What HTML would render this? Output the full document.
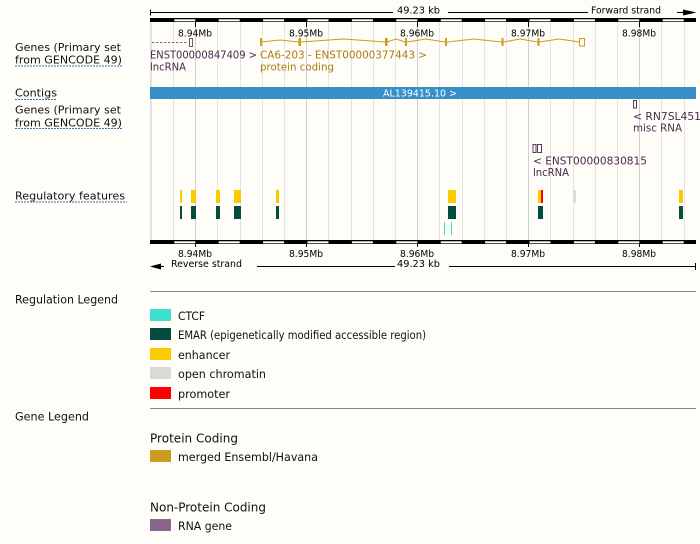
<!DOCTYPE html>
<html><head><meta charset="utf-8"><style>
html,body{margin:0;padding:0;background:#fefdf8;}
svg{display:block;}
text{font-family:"DejaVu Sans","Liberation Sans",sans-serif;}
</style></head><body>
<svg width="700" height="544" viewBox="0 0 700 544" xmlns="http://www.w3.org/2000/svg">
<rect width="700" height="544" fill="#fefdf8"/>

<!-- grid lines -->
<g stroke-width="1">
<line x1="173.5" y1="22" x2="173.5" y2="240" stroke="#e4e4e4"/>
<line x1="195.5" y1="22" x2="195.5" y2="240" stroke="#cfcfcf"/>
<line x1="217.5" y1="22" x2="217.5" y2="240" stroke="#e4e4e4"/>
<line x1="240.5" y1="22" x2="240.5" y2="240" stroke="#e4e4e4"/>
<line x1="262.5" y1="22" x2="262.5" y2="240" stroke="#e4e4e4"/>
<line x1="284.5" y1="22" x2="284.5" y2="240" stroke="#e4e4e4"/>
<line x1="306.5" y1="22" x2="306.5" y2="240" stroke="#cfcfcf"/>
<line x1="328.5" y1="22" x2="328.5" y2="240" stroke="#e4e4e4"/>
<line x1="351.5" y1="22" x2="351.5" y2="240" stroke="#e4e4e4"/>
<line x1="373.5" y1="22" x2="373.5" y2="240" stroke="#e4e4e4"/>
<line x1="395.5" y1="22" x2="395.5" y2="240" stroke="#e4e4e4"/>
<line x1="417.5" y1="22" x2="417.5" y2="240" stroke="#cfcfcf"/>
<line x1="439.5" y1="22" x2="439.5" y2="240" stroke="#e4e4e4"/>
<line x1="462.5" y1="22" x2="462.5" y2="240" stroke="#e4e4e4"/>
<line x1="484.5" y1="22" x2="484.5" y2="240" stroke="#e4e4e4"/>
<line x1="506.5" y1="22" x2="506.5" y2="240" stroke="#e4e4e4"/>
<line x1="528.5" y1="22" x2="528.5" y2="240" stroke="#cfcfcf"/>
<line x1="550.5" y1="22" x2="550.5" y2="240" stroke="#e4e4e4"/>
<line x1="573.5" y1="22" x2="573.5" y2="240" stroke="#e4e4e4"/>
<line x1="595.5" y1="22" x2="595.5" y2="240" stroke="#e4e4e4"/>
<line x1="617.5" y1="22" x2="617.5" y2="240" stroke="#e4e4e4"/>
<line x1="639.5" y1="22" x2="639.5" y2="240" stroke="#cfcfcf"/>
<line x1="661.5" y1="22" x2="661.5" y2="240" stroke="#e4e4e4"/>
<line x1="684.5" y1="22" x2="684.5" y2="240" stroke="#e4e4e4"/>
</g>
<rect x="150" y="22" width="2" height="218" fill="#e0e0e0"/>

<!-- top ruler -->
<line x1="150" y1="12.5" x2="393" y2="12.5" stroke="#000"/>
<line x1="150.5" y1="9.5" x2="150.5" y2="15.5" stroke="#000"/>
<text x="397" y="13.5" font-size="9.5" textLength="43" lengthAdjust="spacingAndGlyphs">49.23 kb</text>
<line x1="448" y1="12.5" x2="588" y2="12.5" stroke="#000"/>
<text x="591" y="13.5" font-size="9.5" textLength="70" lengthAdjust="spacingAndGlyphs">Forward strand</text>
<line x1="677" y1="12.5" x2="684" y2="12.5" stroke="#000"/>
<polygon points="683,9.5 696.5,12.5 683,15.5" fill="#000"/>

<rect x="150" y="18" width="546" height="4" fill="#000"/>
<g fill="#fff">
<rect x="174.3" y="19.3" width="21" height="2"/>
<rect x="218.7" y="19.3" width="21" height="2"/>
<rect x="263.1" y="19.3" width="21" height="2"/>
<rect x="307.5" y="19.3" width="21" height="2"/>
<rect x="351.9" y="19.3" width="21" height="2"/>
<rect x="396.3" y="19.3" width="21" height="2"/>
<rect x="440.7" y="19.3" width="21" height="2"/>
<rect x="485.1" y="19.3" width="21" height="2"/>
<rect x="529.5" y="19.3" width="21" height="2"/>
<rect x="573.9" y="19.3" width="21" height="2"/>
<rect x="618.3" y="19.3" width="21" height="2"/>
<rect x="662.7" y="19.3" width="21" height="2"/>
</g>
<g stroke="#000">
<line x1="195.5" y1="22" x2="195.5" y2="27"/>
<line x1="306.5" y1="22" x2="306.5" y2="27"/>
<line x1="417.5" y1="22" x2="417.5" y2="27"/>
<line x1="528.5" y1="22" x2="528.5" y2="27"/>
<line x1="639.5" y1="22" x2="639.5" y2="27"/>
</g>
<g font-size="9.5" text-anchor="middle">
<text x="195" y="36.5" textLength="34" lengthAdjust="spacingAndGlyphs">8.94Mb</text>
<text x="306" y="36.5" textLength="34" lengthAdjust="spacingAndGlyphs">8.95Mb</text>
<text x="417" y="36.5" textLength="34" lengthAdjust="spacingAndGlyphs">8.96Mb</text>
<text x="528" y="36.5" textLength="34" lengthAdjust="spacingAndGlyphs">8.97Mb</text>
<text x="639" y="36.5" textLength="34" lengthAdjust="spacingAndGlyphs">8.98Mb</text>
</g>

<!-- bottom ruler -->
<rect x="150" y="240" width="546" height="4" fill="#000"/>
<g fill="#fff">
<rect x="174.3" y="241.3" width="21" height="2"/>
<rect x="218.7" y="241.3" width="21" height="2"/>
<rect x="263.1" y="241.3" width="21" height="2"/>
<rect x="307.5" y="241.3" width="21" height="2"/>
<rect x="351.9" y="241.3" width="21" height="2"/>
<rect x="396.3" y="241.3" width="21" height="2"/>
<rect x="440.7" y="241.3" width="21" height="2"/>
<rect x="485.1" y="241.3" width="21" height="2"/>
<rect x="529.5" y="241.3" width="21" height="2"/>
<rect x="573.9" y="241.3" width="21" height="2"/>
<rect x="618.3" y="241.3" width="21" height="2"/>
<rect x="662.7" y="241.3" width="21" height="2"/>
</g>
<g stroke="#000">
<line x1="195.5" y1="244" x2="195.5" y2="247"/>
<line x1="306.5" y1="244" x2="306.5" y2="247"/>
<line x1="417.5" y1="244" x2="417.5" y2="247"/>
<line x1="528.5" y1="244" x2="528.5" y2="247"/>
<line x1="639.5" y1="244" x2="639.5" y2="247"/>
</g>
<g font-size="9.5" text-anchor="middle">
<text x="195" y="257" textLength="34" lengthAdjust="spacingAndGlyphs">8.94Mb</text>
<text x="306" y="257" textLength="34" lengthAdjust="spacingAndGlyphs">8.95Mb</text>
<text x="417" y="257" textLength="34" lengthAdjust="spacingAndGlyphs">8.96Mb</text>
<text x="528" y="257" textLength="34" lengthAdjust="spacingAndGlyphs">8.97Mb</text>
<text x="639" y="257" textLength="34" lengthAdjust="spacingAndGlyphs">8.98Mb</text>
</g>
<polygon points="150,266.5 161,263.5 161,269.5" fill="#000"/>
<line x1="160" y1="266.5" x2="164" y2="266.5" stroke="#000"/>
<text x="171" y="267" font-size="9.5" textLength="71" lengthAdjust="spacingAndGlyphs">Reverse strand</text>
<line x1="257" y1="266.5" x2="395" y2="266.5" stroke="#000"/>
<text x="397" y="267" font-size="9.5" textLength="43" lengthAdjust="spacingAndGlyphs">49.23 kb</text>
<line x1="449" y1="266.5" x2="695.5" y2="266.5" stroke="#000"/>
<line x1="695.5" y1="263" x2="695.5" y2="270" stroke="#000"/>

<!-- left track labels -->
<g font-size="11" fill="#111">
<text x="15" y="51" textLength="106" lengthAdjust="spacingAndGlyphs">Genes (Primary set</text>
<text x="15" y="63.5" textLength="107" lengthAdjust="spacingAndGlyphs">from GENCODE 49)</text>
<text x="15" y="96.5" textLength="42" lengthAdjust="spacingAndGlyphs">Contigs</text>
<text x="15" y="113.3" textLength="106" lengthAdjust="spacingAndGlyphs">Genes (Primary set</text>
<text x="15" y="126.5" textLength="107" lengthAdjust="spacingAndGlyphs">from GENCODE 49)</text>
<text x="15" y="199.5" textLength="110" lengthAdjust="spacingAndGlyphs">Regulatory features</text>
</g>
<g stroke="#3a6fa8" stroke-width="1" stroke-dasharray="2,1">
<line x1="15" y1="66" x2="122" y2="66"/>
<line x1="15" y1="99.5" x2="57" y2="99.5"/>
<line x1="15" y1="128.5" x2="122" y2="128.5"/>
<line x1="15" y1="202" x2="127" y2="202"/>
</g>

<!-- gene track 1 -->
<line x1="152" y1="42.5" x2="187" y2="42.5" stroke="#8b668b" stroke-dasharray="2.5,1.5"/>
<rect x="189.5" y="38.5" width="3" height="8" fill="none" stroke="#7a527a"/>
<g fill="none" stroke="#cd9b1d" stroke-width="1">
<polyline points="261,42 280,40 299,42"/>
<polyline points="301,42 343,39 385,42"/>
<polyline points="387,42 396,39 405,42"/>
<polyline points="407,42 426,39 445,42"/>
<polyline points="447,42 474,39 501.5,42"/>
<polyline points="503.5,42 520,39 537.5,42"/>
<polyline points="539.5,42 559,39 579.5,42"/>
<rect x="579.5" y="38.5" width="5" height="7.5"/>
</g>
<g fill="#cd9b1d">
<rect x="260" y="38" width="2" height="8"/>
<rect x="298.5" y="38" width="2.5" height="8"/>
<rect x="385" y="38" width="2.5" height="8"/>
<rect x="405" y="38" width="2" height="8"/>
<rect x="445" y="38" width="2" height="8"/>
<rect x="501.5" y="38" width="2" height="8"/>
<rect x="537.5" y="38" width="2" height="8"/>
</g>
<g font-size="10.5">
<text x="150" y="58.5" fill="#4a2a4e" textLength="107" lengthAdjust="spacingAndGlyphs">ENST00000847409 &gt;</text>
<text x="150" y="70.5" fill="#4a2a4e" textLength="36" lengthAdjust="spacingAndGlyphs">lncRNA</text>
<text x="260" y="58.5" fill="#ad7a12" textLength="167" lengthAdjust="spacingAndGlyphs">CA6-203 - ENST00000377443 &gt;</text>
<text x="260" y="70.5" fill="#ad7a12" textLength="74" lengthAdjust="spacingAndGlyphs">protein coding</text>
</g>

<!-- contig -->
<rect x="150" y="87" width="546" height="12" fill="#378fca"/>
<text x="383" y="96.5" font-size="10" fill="#fff" textLength="74" lengthAdjust="spacingAndGlyphs">AL139415.10 &gt;</text>

<!-- gene track 2 -->
<rect x="633.5" y="100.5" width="3" height="7.5" fill="none" stroke="#5c3a5c"/>
<rect x="533" y="144.5" width="3" height="8" fill="none" stroke="#5c3a5c"/>
<rect x="537.5" y="144.5" width="4" height="8" fill="none" stroke="#5c3a5c"/>
<g font-size="10.5" fill="#4a2a4e">
<text x="633" y="120" textLength="68" lengthAdjust="spacingAndGlyphs">&lt; RN7SL451</text>
<text x="633" y="131.7" textLength="49" lengthAdjust="spacingAndGlyphs">misc RNA</text>
<text x="533" y="164.3" textLength="114" lengthAdjust="spacingAndGlyphs">&lt; ENST00000830815</text>
<text x="533" y="176" textLength="36" lengthAdjust="spacingAndGlyphs">lncRNA</text>
</g>

<!-- regulatory features -->
<g fill="#facb00">
<rect x="180" y="190" width="2" height="13"/>
<rect x="191" y="190" width="5" height="13"/>
<rect x="216" y="190" width="4" height="13"/>
<rect x="234" y="190" width="7" height="13"/>
<rect x="276" y="190" width="3" height="13"/>
<rect x="448" y="190" width="8" height="13"/>
<rect x="538" y="190" width="3" height="13"/>
<rect x="679" y="190" width="4" height="13"/>
</g>
<rect x="541" y="190" width="2" height="13" fill="#ff0000"/>
<rect x="573" y="190" width="3" height="13" fill="#dcdcdc"/>
<g fill="#024d3f">
<rect x="180" y="206" width="2" height="13"/>
<rect x="191" y="206" width="5" height="13"/>
<rect x="216" y="206" width="4" height="13"/>
<rect x="234" y="206" width="7" height="13"/>
<rect x="276" y="206" width="3" height="13"/>
<rect x="448" y="206" width="8" height="13"/>
<rect x="538" y="206" width="5" height="13"/>
<rect x="679" y="206" width="4" height="13"/>
</g>
<rect x="444" y="222" width="1" height="13" fill="#40e0d0"/>
<rect x="451" y="222" width="1" height="13" fill="#40e0d0"/>

<!-- legends -->
<text x="15" y="303.5" font-size="11.5" fill="#111" textLength="103" lengthAdjust="spacingAndGlyphs">Regulation Legend</text>
<line x1="150" y1="291.5" x2="696" y2="291.5" stroke="#888"/>
<rect x="150" y="309" width="21" height="12" fill="#40e0d0"/>
<rect x="150" y="328" width="21" height="12" fill="#034c40"/>
<rect x="150" y="348" width="21" height="12" fill="#facb00"/>
<rect x="150" y="367" width="21" height="12" fill="#d9d9d9"/>
<rect x="150" y="387" width="21" height="12" fill="#ff0000"/>
<g font-size="11.5" fill="#111">
<text x="178" y="320" textLength="27" lengthAdjust="spacingAndGlyphs">CTCF</text>
<text x="178" y="339" textLength="248" lengthAdjust="spacingAndGlyphs">EMAR (epigenetically modified accessible region)</text>
<text x="178" y="359" textLength="52" lengthAdjust="spacingAndGlyphs">enhancer</text>
<text x="178" y="378" textLength="88" lengthAdjust="spacingAndGlyphs">open chromatin</text>
<text x="178" y="398" textLength="52" lengthAdjust="spacingAndGlyphs">promoter</text>
</g>
<line x1="150" y1="408.5" x2="696" y2="408.5" stroke="#888"/>
<text x="15" y="420.5" font-size="11.5" fill="#111" textLength="74" lengthAdjust="spacingAndGlyphs">Gene Legend</text>
<text x="150" y="442.5" font-size="12.5" fill="#111" textLength="88" lengthAdjust="spacingAndGlyphs">Protein Coding</text>
<rect x="150" y="450" width="21" height="12" fill="#cd9b1d"/>
<text x="178" y="461" font-size="11.5" fill="#111" textLength="140" lengthAdjust="spacingAndGlyphs">merged Ensembl/Havana</text>
<text x="150" y="511.5" font-size="12.5" fill="#111" textLength="116" lengthAdjust="spacingAndGlyphs">Non-Protein Coding</text>
<rect x="150" y="519" width="21" height="12" fill="#8b668b"/>
<text x="178" y="530" font-size="11.5" fill="#111" textLength="54" lengthAdjust="spacingAndGlyphs">RNA gene</text>
</svg>
</body></html>
